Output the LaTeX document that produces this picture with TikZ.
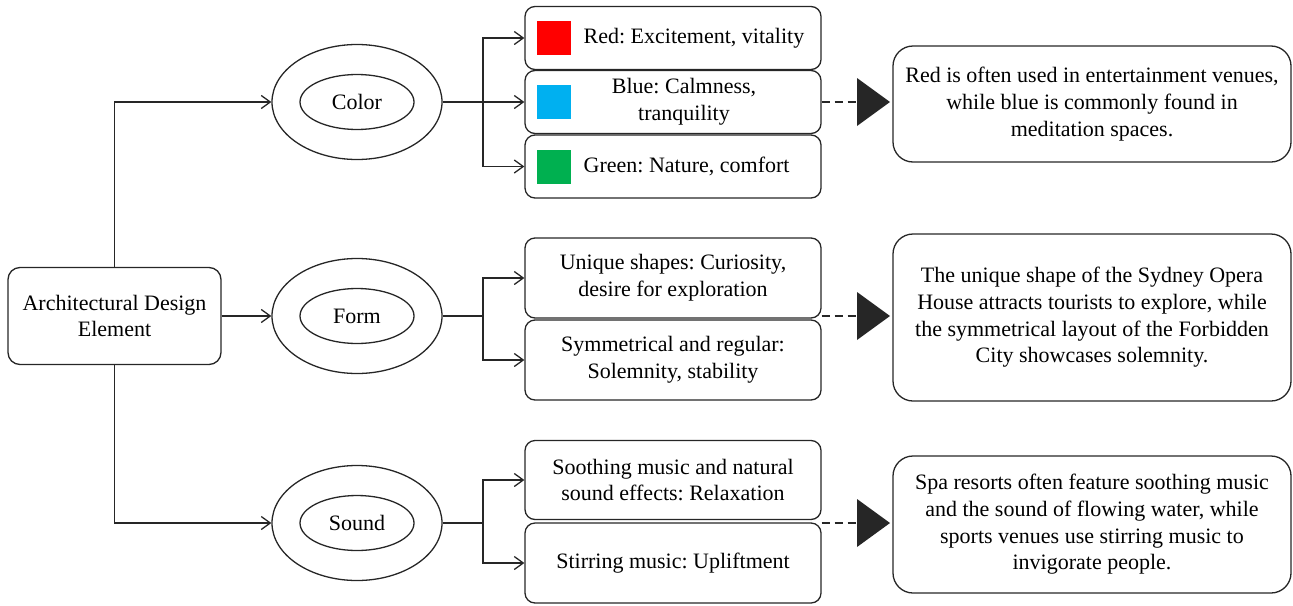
\documentclass[tikz,border=0pt]{standalone}
\usepackage{fontspec}
\setmainfont{Liberation Serif}
\usetikzlibrary{shapes.geometric}
\usetikzlibrary{arrows.meta}
\usetikzlibrary{positioning}
\definecolor{sqred}{HTML}{FF0000}
\definecolor{sqblue}{HTML}{00B0F0}
\definecolor{sqgreen}{HTML}{00B050}
\definecolor{ink}{HTML}{262626}
\frenchspacing
\begin{document}
\begin{tikzpicture}[x=0.5pt,y=-0.5pt,line width=0.65pt,draw=ink,
  font=\fontsize{11}{13.3}\selectfont,
  box/.style={draw=ink,rounded corners=5pt,inner sep=0pt,align=center},
  oval/.style={draw=ink,ellipse,inner sep=0pt,minimum width=85pt,minimum height=57.5pt},
  core/.style={draw=ink,ellipse,inner sep=0pt,minimum width=57pt,minimum height=27.5pt},
  sq/.style={inner sep=0pt,minimum size=17pt},
  link/.style={-{Straight Barb[length=4.5pt,width=6.5pt]}},
  hint/.style={dash pattern=on 4pt off 2.5pt,line width=0.9pt}]
\useasboundingbox (0,0) rectangle (1293,605);
\node[box,rounded corners=6pt,minimum width=106.5pt,minimum height=48.5pt] (0) at (114.5,316) {Architectural Design\\Element};
\node[oval] (1) at (357,102) {};
\node[core] (1a) at (357,102) {Color};
\node[oval] (2) at (357,316) {};
\node[core] (2a) at (357,316) {Form};
\node[oval] (3) at (357,523) {};
\node[core] (3a) at (357,523) {Sound};
\node[box,minimum width=148pt,minimum height=31.5pt] (c1) at (673,38) {};
\node[box,minimum width=148pt,minimum height=31.5pt] (c2) at (673,102) {};
\node[box,minimum width=148pt,minimum height=31.5pt] (c3) at (673,166.5) {};
\node[sq,fill=sqred] (q1) at (554,38) {};
\node[sq,fill=sqblue] (q2) at (554,102) {};
\node[sq,fill=sqgreen] (q3) at (554,166.5) {};
\node[anchor=west,inner sep=0pt] (t1) at (583,38) {Red: Excitement, vitality};
\node[align=center,inner sep=0pt] (t2) at (684,102) {Blue: Calmness,\\tranquility};
\node[anchor=west,inner sep=0pt] (t3) at (583,166.5) {Green: Nature, comfort};
\node[box,minimum width=148pt,minimum height=40pt] (f1) at (673,278) {Unique shapes: Curiosity,\\desire for exploration};
\node[box,minimum width=148pt,minimum height=40pt] (f2) at (673,360) {Symmetrical and regular:\\Solemnity, stability};
\node[box,minimum width=148pt,minimum height=39.5pt] (s1) at (673,480) {Soothing music and natural\\sound effects: Relaxation};
\node[box,minimum width=148pt,minimum height=40pt] (s2) at (673,563) {Stirring music: Upliftment};
\node[box,rounded corners=10pt,minimum width=199pt,minimum height=58pt] (r1) at (1092,104) {Red is often used in entertainment venues,\\while blue is commonly found in\\meditation spaces.};
\node[box,rounded corners=10pt,minimum width=199pt,minimum height=83.5pt] (r2) at (1092,317.5) {The unique shape of the Sydney Opera\\House attracts tourists to explore, while\\the symmetrical layout of the Forbidden\\City showcases solemnity.};
\node[box,rounded corners=10pt,minimum width=199pt,minimum height=68.5pt] (r3) at (1092,524.5) {Spa resorts often feature soothing music\\and the sound of flowing water, while\\sports venues use stirring music to\\invigorate people.};
\coordinate (b1) at (483,102);
\coordinate (b2) at (483,316);
\coordinate (b3) at (483,523);
\coordinate (p1) at (857,102);
\coordinate (p2) at (857,316);
\coordinate (p3) at (857,523);
\draw[link] (0.north) |- (1.west);
\draw[link] (0) -- (2);
\draw[link] (0.south) |- (3.west);
\draw (1.east) -- (b1);
\draw[link] (b1) |- (c1.west);
\draw[link] (b1) -- (c2.west);
\draw[link] (b1) |- (c3.west);
\draw (2.east) -- (b2);
\draw[link] (b2) |- (f1.west);
\draw[link] (b2) |- (f2.west);
\draw (3.east) -- (b3);
\draw[link] (b3) |- (s1.west);
\draw[link] (b3) |- (s2.west);
\draw[hint] (c2.east) -- (p1);
\draw[hint] (f2.east |- p2) -- (p2);
\draw[hint] (s2.east |- p3) -- (p3);
\fill[ink] (p1) ++(0,-24) -- ++(33,24) -- ++(-33,24) -- cycle;
\fill[ink] (p2) ++(0,-24) -- ++(33,24) -- ++(-33,24) -- cycle;
\fill[ink] (p3) ++(0,-24) -- ++(33,24) -- ++(-33,24) -- cycle;
\end{tikzpicture}
\end{document}
